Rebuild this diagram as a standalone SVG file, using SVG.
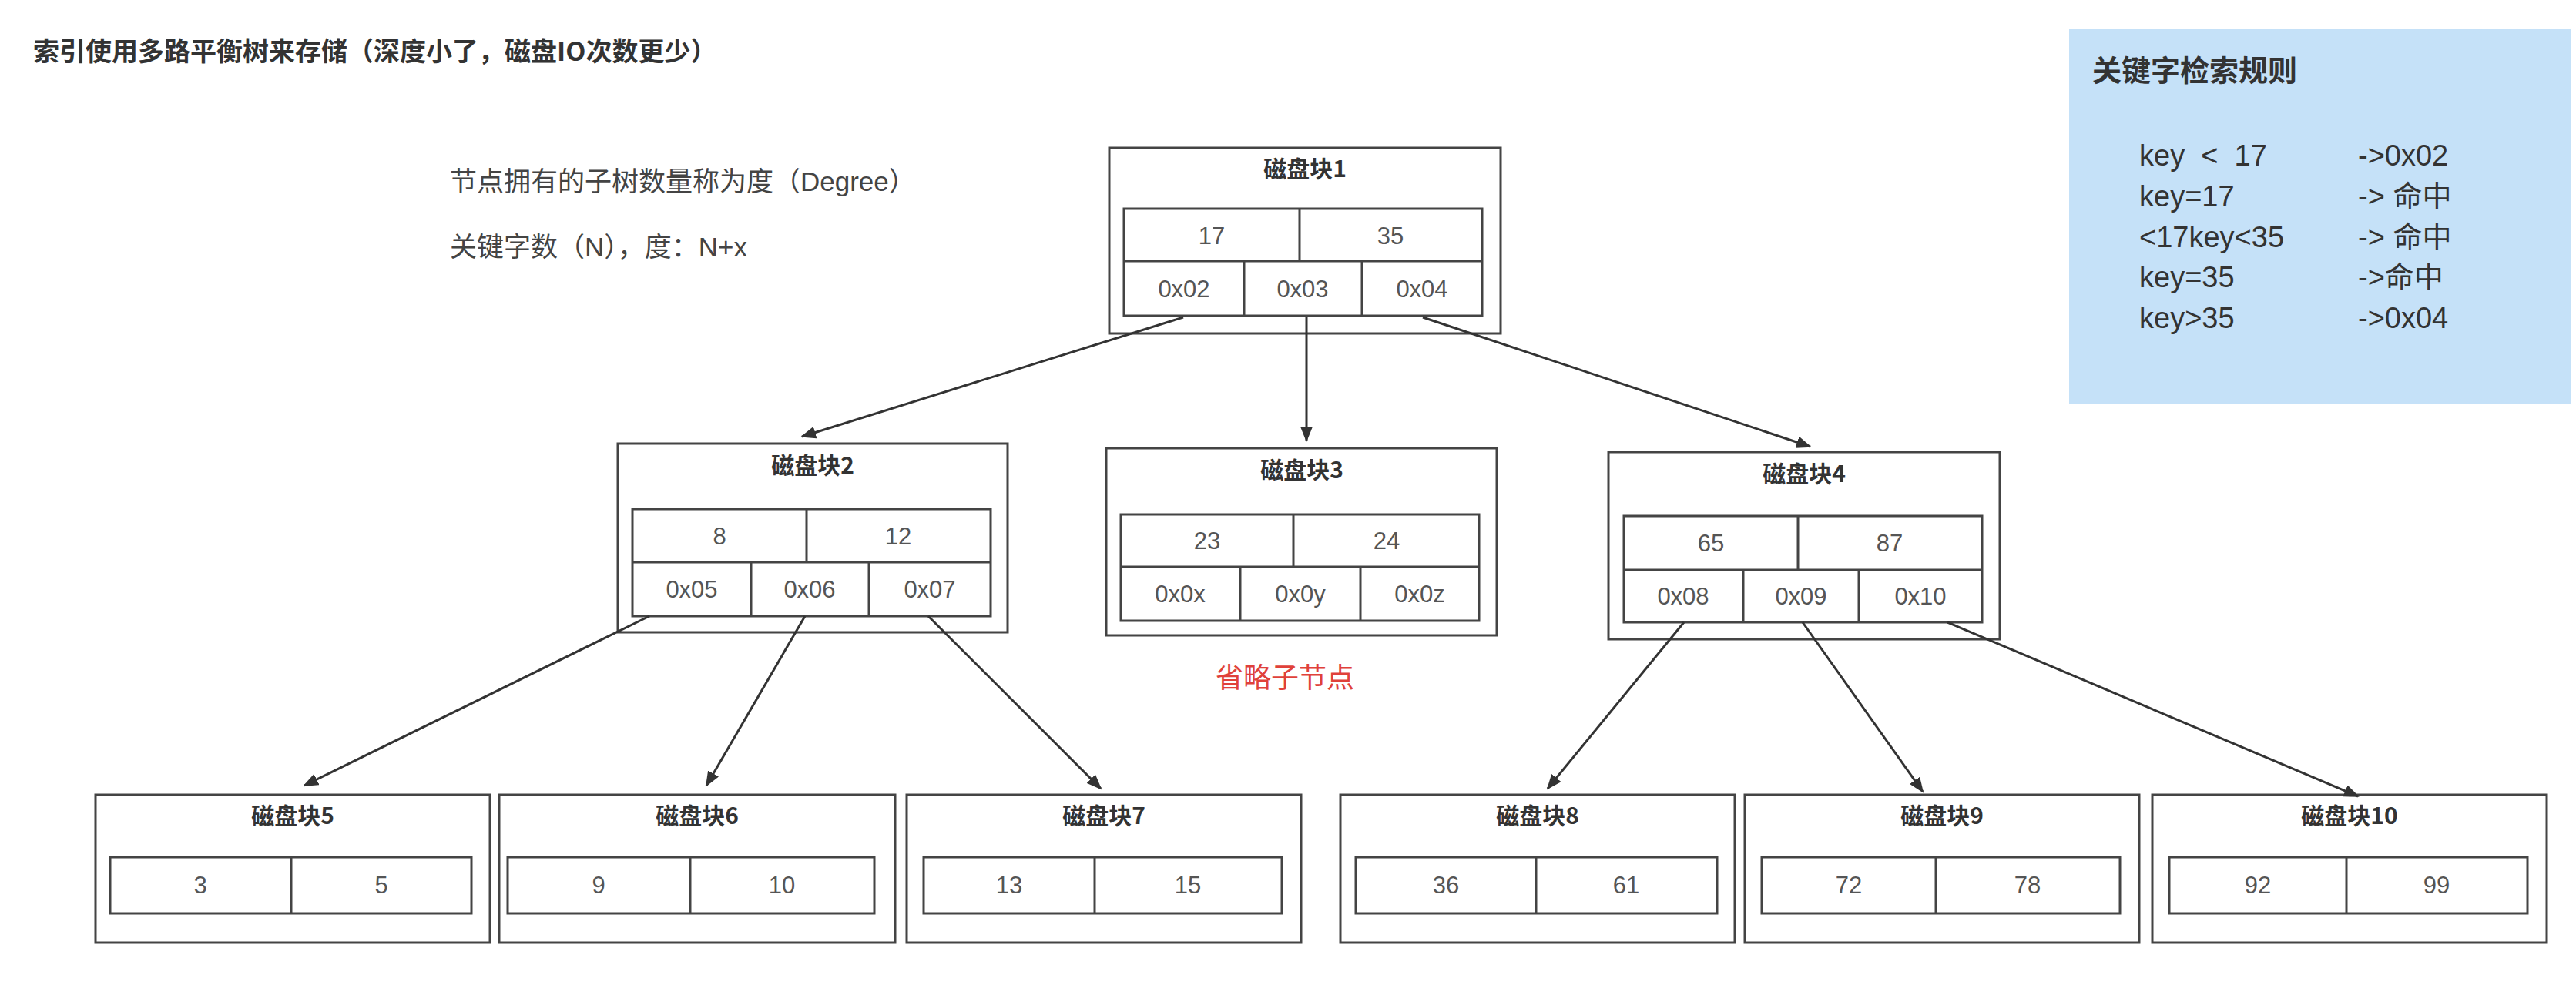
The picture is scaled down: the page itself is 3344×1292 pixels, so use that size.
<svg xmlns="http://www.w3.org/2000/svg" width="3344" height="1292" viewBox="0 0 3344 1292">
<style>
.box{fill:#fff;stroke:#444;stroke-width:3}
.cell{fill:none;stroke:#444;stroke-width:3}
.t{font-family:"Noto Sans CJK SC","Liberation Sans",sans-serif;fill:#333;font-weight:bold;font-size:30px;text-anchor:middle}
.c{font-family:"Liberation Sans","Noto Sans CJK SC",sans-serif;fill:#555;font-size:31px;text-anchor:middle}
.n{font-family:"Liberation Sans","Noto Sans CJK SC",sans-serif;fill:#444;font-size:35px}
.k{font-family:"Liberation Sans","Noto Sans CJK SC",sans-serif;fill:#333;font-size:38px}
.e{stroke:#333;stroke-width:3;fill:none;marker-end:url(#a)}
</style>
<defs><marker id="a" markerWidth="20" markerHeight="16" refX="18" refY="8" orient="auto" markerUnits="userSpaceOnUse" viewBox="0 0 20 16"><path d="M0,0 L20,8 L0,16 z" fill="#333"/></marker></defs>
<rect width="3344" height="1292" fill="#fff"/>
<text x="43" y="79" font-family="Noto Sans CJK SC,sans-serif" font-weight="bold" font-size="34" fill="#333">索引使用多路平衡树来存储（深度小了，磁盘IO次数更少）</text>
<text x="584" y="248" class="n">节点拥有的子树数量称为度（Degree）</text>
<text x="584" y="333" class="n">关键字数（N），度：N+x</text>
<text x="1668" y="893" font-family="Noto Sans CJK SC,sans-serif" font-size="36" fill="#e0413a" text-anchor="middle">省略子节点</text>
<g id="rules">
<rect x="2686" y="38" width="652" height="487" fill="#c5e1f8"/>
<text x="2716" y="105" font-family="Noto Sans CJK SC,sans-serif" font-weight="bold" font-size="38" fill="#333">关键字检索规则</text>
<text class="k" x="2777" y="215" xml:space="preserve">key  &lt;  17</text><text class="k" x="3061" y="215">-&gt;0x02</text>
<text class="k" x="2777" y="268">key=17</text><text class="k" x="3061" y="268">-&gt; 命中</text>
<text class="k" x="2777" y="321">&lt;17key&lt;35</text><text class="k" x="3061" y="321">-&gt; 命中</text>
<text class="k" x="2777" y="373">key=35</text><text class="k" x="3061" y="373">-&gt;命中</text>
<text class="k" x="2777" y="426">key&gt;35</text><text class="k" x="3061" y="426">-&gt;0x04</text>
</g>
<g id="node1">
<rect class="box" x="1440" y="192" width="508" height="241"/>
<text class="t" x="1694" y="230">磁盘块1</text>
<rect class="cell" x="1459" y="271" width="465" height="139"/>
<path class="cell" d="M1459,339H1924M1687,271V339M1615,339V410M1768,339V410"/>
<text class="c" x="1573" y="317">17</text><text class="c" x="1805" y="317">35</text>
<text class="c" x="1537" y="386">0x02</text><text class="c" x="1691" y="386">0x03</text><text class="c" x="1846" y="386">0x04</text>
</g>
<g id="node2">
<rect class="box" x="802" y="576" width="506" height="245"/>
<text class="t" x="1055" y="615">磁盘块2</text>
<rect class="cell" x="821" y="661" width="465" height="139"/>
<path class="cell" d="M821,730H1286M1047,661V730M975,730V800M1128,730V800"/>
<text class="c" x="934" y="707">8</text><text class="c" x="1166" y="707">12</text>
<text class="c" x="898" y="776">0x05</text><text class="c" x="1051" y="776">0x06</text><text class="c" x="1207" y="776">0x07</text>
</g>
<g id="node3">
<rect class="box" x="1436" y="582" width="507" height="243"/>
<text class="t" x="1690" y="621">磁盘块3</text>
<rect class="cell" x="1455" y="668" width="465" height="138"/>
<path class="cell" d="M1455,736H1920M1679,668V736M1610,736V806M1766,736V806"/>
<text class="c" x="1567" y="713">23</text><text class="c" x="1800" y="713">24</text>
<text class="c" x="1532" y="782">0x0x</text><text class="c" x="1688" y="782">0x0y</text><text class="c" x="1843" y="782">0x0z</text>
</g>
<g id="node4">
<rect class="box" x="2088" y="587" width="508" height="243"/>
<text class="t" x="2342" y="626">磁盘块4</text>
<rect class="cell" x="2108" y="670" width="465" height="138"/>
<path class="cell" d="M2108,740H2573M2334,670V740M2263,740V808M2413,740V808"/>
<text class="c" x="2221" y="716">65</text><text class="c" x="2453" y="716">87</text>
<text class="c" x="2185" y="785">0x08</text><text class="c" x="2338" y="785">0x09</text><text class="c" x="2493" y="785">0x10</text>
</g>
<g id="node5"><rect class="box" x="124" y="1032" width="512" height="192"/><text class="t" x="380" y="1070">磁盘块5</text><rect class="cell" x="143" y="1113" width="469" height="73"/><path class="cell" d="M378,1113V1186"/><text class="c" x="260" y="1160">3</text><text class="c" x="495" y="1160">5</text></g>
<g id="node6"><rect class="box" x="648" y="1032" width="514" height="192"/><text class="t" x="905" y="1070">磁盘块6</text><rect class="cell" x="659" y="1113" width="476" height="73"/><path class="cell" d="M896,1113V1186"/><text class="c" x="777" y="1160">9</text><text class="c" x="1015" y="1160">10</text></g>
<g id="node7"><rect class="box" x="1177" y="1032" width="512" height="192"/><text class="t" x="1433" y="1070">磁盘块7</text><rect class="cell" x="1199" y="1113" width="465" height="73"/><path class="cell" d="M1421,1113V1186"/><text class="c" x="1310" y="1160">13</text><text class="c" x="1542" y="1160">15</text></g>
<g id="node8"><rect class="box" x="1740" y="1032" width="512" height="192"/><text class="t" x="1996" y="1070">磁盘块8</text><rect class="cell" x="1760" y="1113" width="469" height="73"/><path class="cell" d="M1994,1113V1186"/><text class="c" x="1877" y="1160">36</text><text class="c" x="2111" y="1160">61</text></g>
<g id="node9"><rect class="box" x="2265" y="1032" width="512" height="192"/><text class="t" x="2521" y="1070">磁盘块9</text><rect class="cell" x="2287" y="1113" width="465" height="73"/><path class="cell" d="M2513,1113V1186"/><text class="c" x="2400" y="1160">72</text><text class="c" x="2632" y="1160">78</text></g>
<g id="node10"><rect class="box" x="2794" y="1032" width="512" height="192"/><text class="t" x="3050" y="1070">磁盘块10</text><rect class="cell" x="2816" y="1113" width="465" height="73"/><path class="cell" d="M3046,1113V1186"/><text class="c" x="2931" y="1160">92</text><text class="c" x="3163" y="1160">99</text></g>
<g id="connectors">
<path class="e" d="M1536,412L1041,567"/>
<path class="e" d="M1696,412L1696,572"/>
<path class="e" d="M1847,412L2350,580"/>
<path class="e" d="M843,800L395,1020"/>
<path class="e" d="M1045,800L917,1020"/>
<path class="e" d="M1205,800L1429,1024"/>
<path class="e" d="M2186,808L2009,1024"/>
<path class="e" d="M2340,808L2496,1028"/>
<path class="e" d="M2528,808L3061,1034"/>
</g>
</svg>
